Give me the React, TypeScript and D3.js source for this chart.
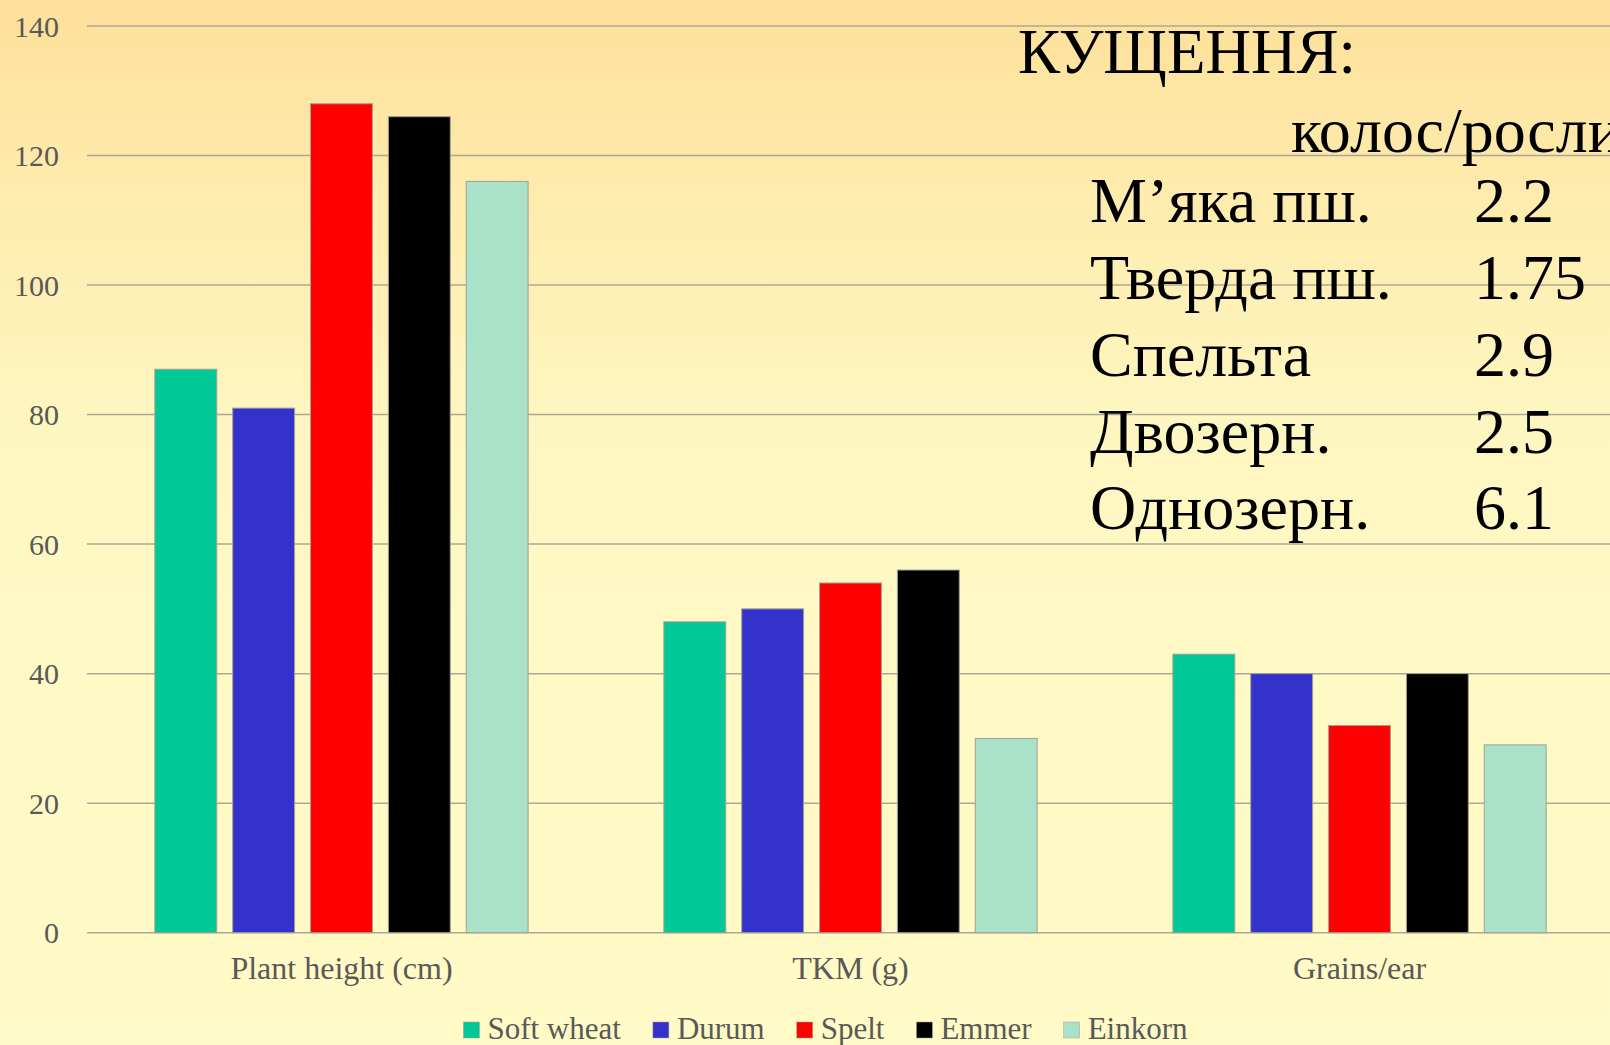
import React from 'react';
import * as d3 from 'd3';

const categories = ['Plant height (cm)', 'TKM (g)', 'Grains/ear'];
const seriesNames = ['Soft wheat', 'Durum', 'Spelt', 'Emmer', 'Einkorn'];
const softWheat = [87, 48, 43];
const durum = [81, 50, 40];
const spelt = [128, 54, 32];
const emmer = [126, 56, 40];
const einkorn = [116, 30, 29];
const seriesValues = [softWheat, durum, spelt, emmer, einkorn];
const seriesColors = ['#00c896', '#3333cc', '#ff0000', '#000000', '#aae1c9'];
const yTicks = [0, 20, 40, 60, 80, 100, 120, 140];

const tilleringTitle = 'КУЩЕННЯ:';
const tilleringUnit = 'колос/рослину';
const tilleringLabels = ['М’яка пш.', 'Тверда пш.', 'Спельта', 'Двозерн.', 'Однозерн.'];
const tilleringValues = ['2.2', '1.75', '2.9', '2.5', '6.1'];

const W = 1610;
const H = 1045;
const FONT = "'Liberation Serif', 'Times New Roman', serif";

function measure(text: string, size: number): number {
  const c = document.createElement('canvas');
  const ctx = c.getContext('2d');
  if (!ctx) return text.length * size * 0.45;
  ctx.font = `${size}px ${FONT}`;
  return ctx.measureText(text).width;
}

export default function App() {
  const plotLeft = 87;
  const plotRight = 1614;
  const x0 = d3.scaleBand<string>().domain(categories).range([plotLeft, plotRight])
    .paddingInner(0.2667).paddingOuter(0.1333);
  const x1 = d3.scaleBand<string>().domain(seriesNames).range([0, x0.bandwidth()])
    .paddingInner(16 / 78).paddingOuter(0);
  const y = d3.scaleLinear().domain([0, 140]).range([932.7, 26]);

  // legend layout
  const legendFont = 31;
  const sq = 16;
  const gapSqText = 8;
  const gapItems = 32;
  const widths = seriesNames.map((s) => measure(s, legendFont));
  const total = widths.reduce((a, b) => a + b, 0) + seriesNames.length * (sq + gapSqText) + (seriesNames.length - 1) * gapItems;
  let lx = 825.5 - total / 2;
  const legendItems = seriesNames.map((s, i) => {
    const item = { name: s, x: lx, color: seriesColors[i] };
    lx += sq + gapSqText + widths[i] + gapItems;
    return item;
  });

  const rowBaselines = [222, 299, 376, 453, 529];

  return (
    <div style={{ position: 'fixed', left: 0, top: 0, width: W, height: H }}>
      <svg width={W} height={H} style={{ display: 'block' }}>
        <defs>
          <linearGradient id="bg" x1="0" y1="0" x2="0" y2="1">
            <stop offset="0" stopColor="#fde09a" />
            <stop offset="0.18" stopColor="#feebad" />
            <stop offset="0.4" stopColor="#fef6c0" />
            <stop offset="0.6" stopColor="#fef9c5" />
            <stop offset="1" stopColor="#fffac6" />
          </linearGradient>
        </defs>
        <rect x={0} y={0} width={W} height={H} fill="url(#bg)" />

        {/* gridlines */}
        {yTicks.map((t) => (
          <line key={t} x1={plotLeft} x2={W} y1={y(t)} y2={y(t)} stroke="#aca896" strokeWidth={1.5} />
        ))}

        {/* tick labels */}
        {yTicks.map((t) => (
          <text key={'l' + t} x={59} y={y(t)} dy="0.35em" textAnchor="end" fontFamily={FONT} fontSize={30} fill="#595959">
            {t}
          </text>
        ))}

        {/* bars */}
        {categories.map((c, ci) => (
          <g key={c} transform={`translate(${x0(c)},0)`}>
            {seriesNames.map((s, si) => {
              const v = seriesValues[si][ci];
              return (
                <rect key={s} x={x1(s)} y={y(v)} width={x1.bandwidth()} height={y(0) - y(v)}
                  fill={seriesColors[si]} stroke="#a39f92" strokeWidth={1} />
              );
            })}
          </g>
        ))}

        {/* category labels */}
        {categories.map((c) => (
          <text key={'c' + c} x={(x0(c) as number) + x0.bandwidth() / 2} y={979} textAnchor="middle"
            fontFamily={FONT} fontSize={32} fill="#595959">
            {c}
          </text>
        ))}

        {/* legend */}
        {legendItems.map((it) => (
          <g key={'lg' + it.name}>
            <rect x={it.x} y={1022} width={sq} height={sq} fill={it.color} stroke="#a39f92" strokeWidth={0.5} />
            <text x={it.x + sq + gapSqText} y={1039} fontFamily={FONT} fontSize={legendFont} fill="#595959">
              {it.name}
            </text>
          </g>
        ))}

        {/* tillering text block */}
        <text x={1018} y={73} fontFamily={FONT} fontSize={63} fill="#000">{tilleringTitle}</text>
        <text x={1291} y={152} fontFamily={FONT} fontSize={64} fill="#000">{tilleringUnit}</text>
        {tilleringLabels.map((l, i) => (
          <g key={'t' + i}>
            <text x={1090} y={rowBaselines[i]} fontFamily={FONT} fontSize={64} fill="#000">{l}</text>
            <text x={1474} y={rowBaselines[i]} fontFamily={FONT} fontSize={64} fill="#000">{tilleringValues[i]}</text>
          </g>
        ))}
      </svg>
    </div>
  );
}
